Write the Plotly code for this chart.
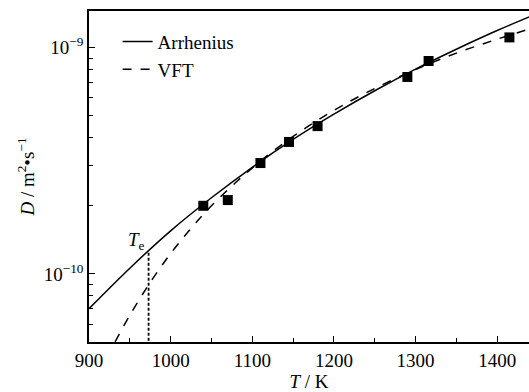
import plotly.graph_objects as go

# Experimental data (T in K, D in m^2/s)
T_exp = [1040, 1070, 1110, 1145, 1180, 1290, 1316, 1415]
D_exp = [2.00e-10, 2.12e-10, 3.09e-10, 3.83e-10, 4.50e-10, 7.42e-10, 8.73e-10, 1.11e-9]

# Arrhenius curve
T_arr = [900, 950, 1000, 1050, 1100, 1150, 1200, 1250, 1300, 1350, 1400, 1440]
D_arr = [7.02e-11, 1.06e-10, 1.55e-10, 2.17e-10, 2.96e-10, 3.93e-10,
         5.08e-10, 6.45e-10, 8.04e-10, 9.84e-10, 1.19e-9, 1.37e-9]

# VFT curve
T_vft = [932, 950, 975, 1000, 1025, 1050, 1100, 1150, 1200, 1250, 1300, 1350, 1400, 1440]
D_vft = [5.01e-11, 6.57e-11, 9.17e-11, 1.23e-10, 1.59e-10, 2.00e-10, 2.94e-10,
         4.05e-10, 5.28e-10, 6.60e-10, 8.00e-10, 9.46e-10, 1.09e-9, 1.21e-9]

# Te marker
T_e = [973, 973]
D_e = [1.24e-10, 5.0e-11]
Te_label_T = 958
Te_label_logD = -9.855

x_ticks = [900, 1000, 1100, 1200, 1300, 1400]
y_ticks = [1e-10, 1e-9]
y_ticktext = ["10<sup>\u221210</sup>", "10<sup>\u22129</sup>"]

FONT = "Liberation Serif"
FS = 19

fig = go.Figure()
fig.add_trace(go.Scatter(x=T_arr, y=D_arr, mode="lines", name="Arrhenius",
                         line=dict(color="black", width=1.5, shape="spline")))
fig.add_trace(go.Scatter(x=T_vft, y=D_vft, mode="lines", name="VFT",
                         line=dict(color="black", width=1.5, dash="dash", shape="spline")))
fig.add_trace(go.Scatter(x=T_e, y=D_e, mode="lines", showlegend=False,
                         line=dict(color="black", width=1.8, dash="3px,2px")))
fig.add_trace(go.Scatter(x=T_exp, y=D_exp, mode="markers", showlegend=False,
                         marker=dict(symbol="square", size=10, color="black")))

fig.add_annotation(x=Te_label_T, y=Te_label_logD, yref="y", xref="x",
                   text="<i>T</i><sub>e</sub>", showarrow=False,
                   font=dict(family=FONT, size=FS, color="black"))

fig.update_layout(
    width=529, height=392,
    margin=dict(l=89, r=0, t=11, b=50),
    paper_bgcolor="white", plot_bgcolor="white",
    font=dict(family=FONT, size=FS, color="black"),
    showlegend=True,
    legend=dict(x=0.065, y=0.965, xanchor="left", yanchor="top",
                bgcolor="rgba(0,0,0,0)", font=dict(family=FONT, size=FS),
                tracegroupgap=0, itemwidth=30),
)

fig.update_xaxes(
    range=[900, 1439], showgrid=False, zeroline=False, automargin=False,
    showline=True, linecolor="black", linewidth=1.5, mirror=True,
    ticks="inside", ticklen=6, tickwidth=1.2, tickcolor="black",
    tickvals=x_ticks, tickfont=dict(family=FONT, size=FS),
    minor=dict(ticks="inside", ticklen=4, tickwidth=1.2, tickcolor="black", dtick=50, showgrid=False),
    title=dict(text="<i>T</i> / K", font=dict(family=FONT, size=FS), standoff=2),
)
fig.update_yaxes(
    type="log", range=[-10.301, -8.838], showgrid=False, zeroline=False, automargin=False,
    showline=True, linecolor="black", linewidth=1.5, mirror=False,
    ticks="inside", ticklen=6, tickwidth=1.2, tickcolor="black",
    tickvals=y_ticks, ticktext=y_ticktext, tickfont=dict(family=FONT, size=FS),
    minor=dict(ticks="inside", ticklen=4, tickwidth=1.2, tickcolor="black", dtick="D1", showgrid=False),
    title=dict(text="<i>D</i> / m<sup>2</sup>\u2022s<sup>\u22121</sup>", font=dict(family=FONT, size=FS), standoff=4),
)

fig.write_html("out.html", config={"displayModeBar": False},
               post_script="document.body.style.margin='0';document.body.style.overflow='hidden';")
